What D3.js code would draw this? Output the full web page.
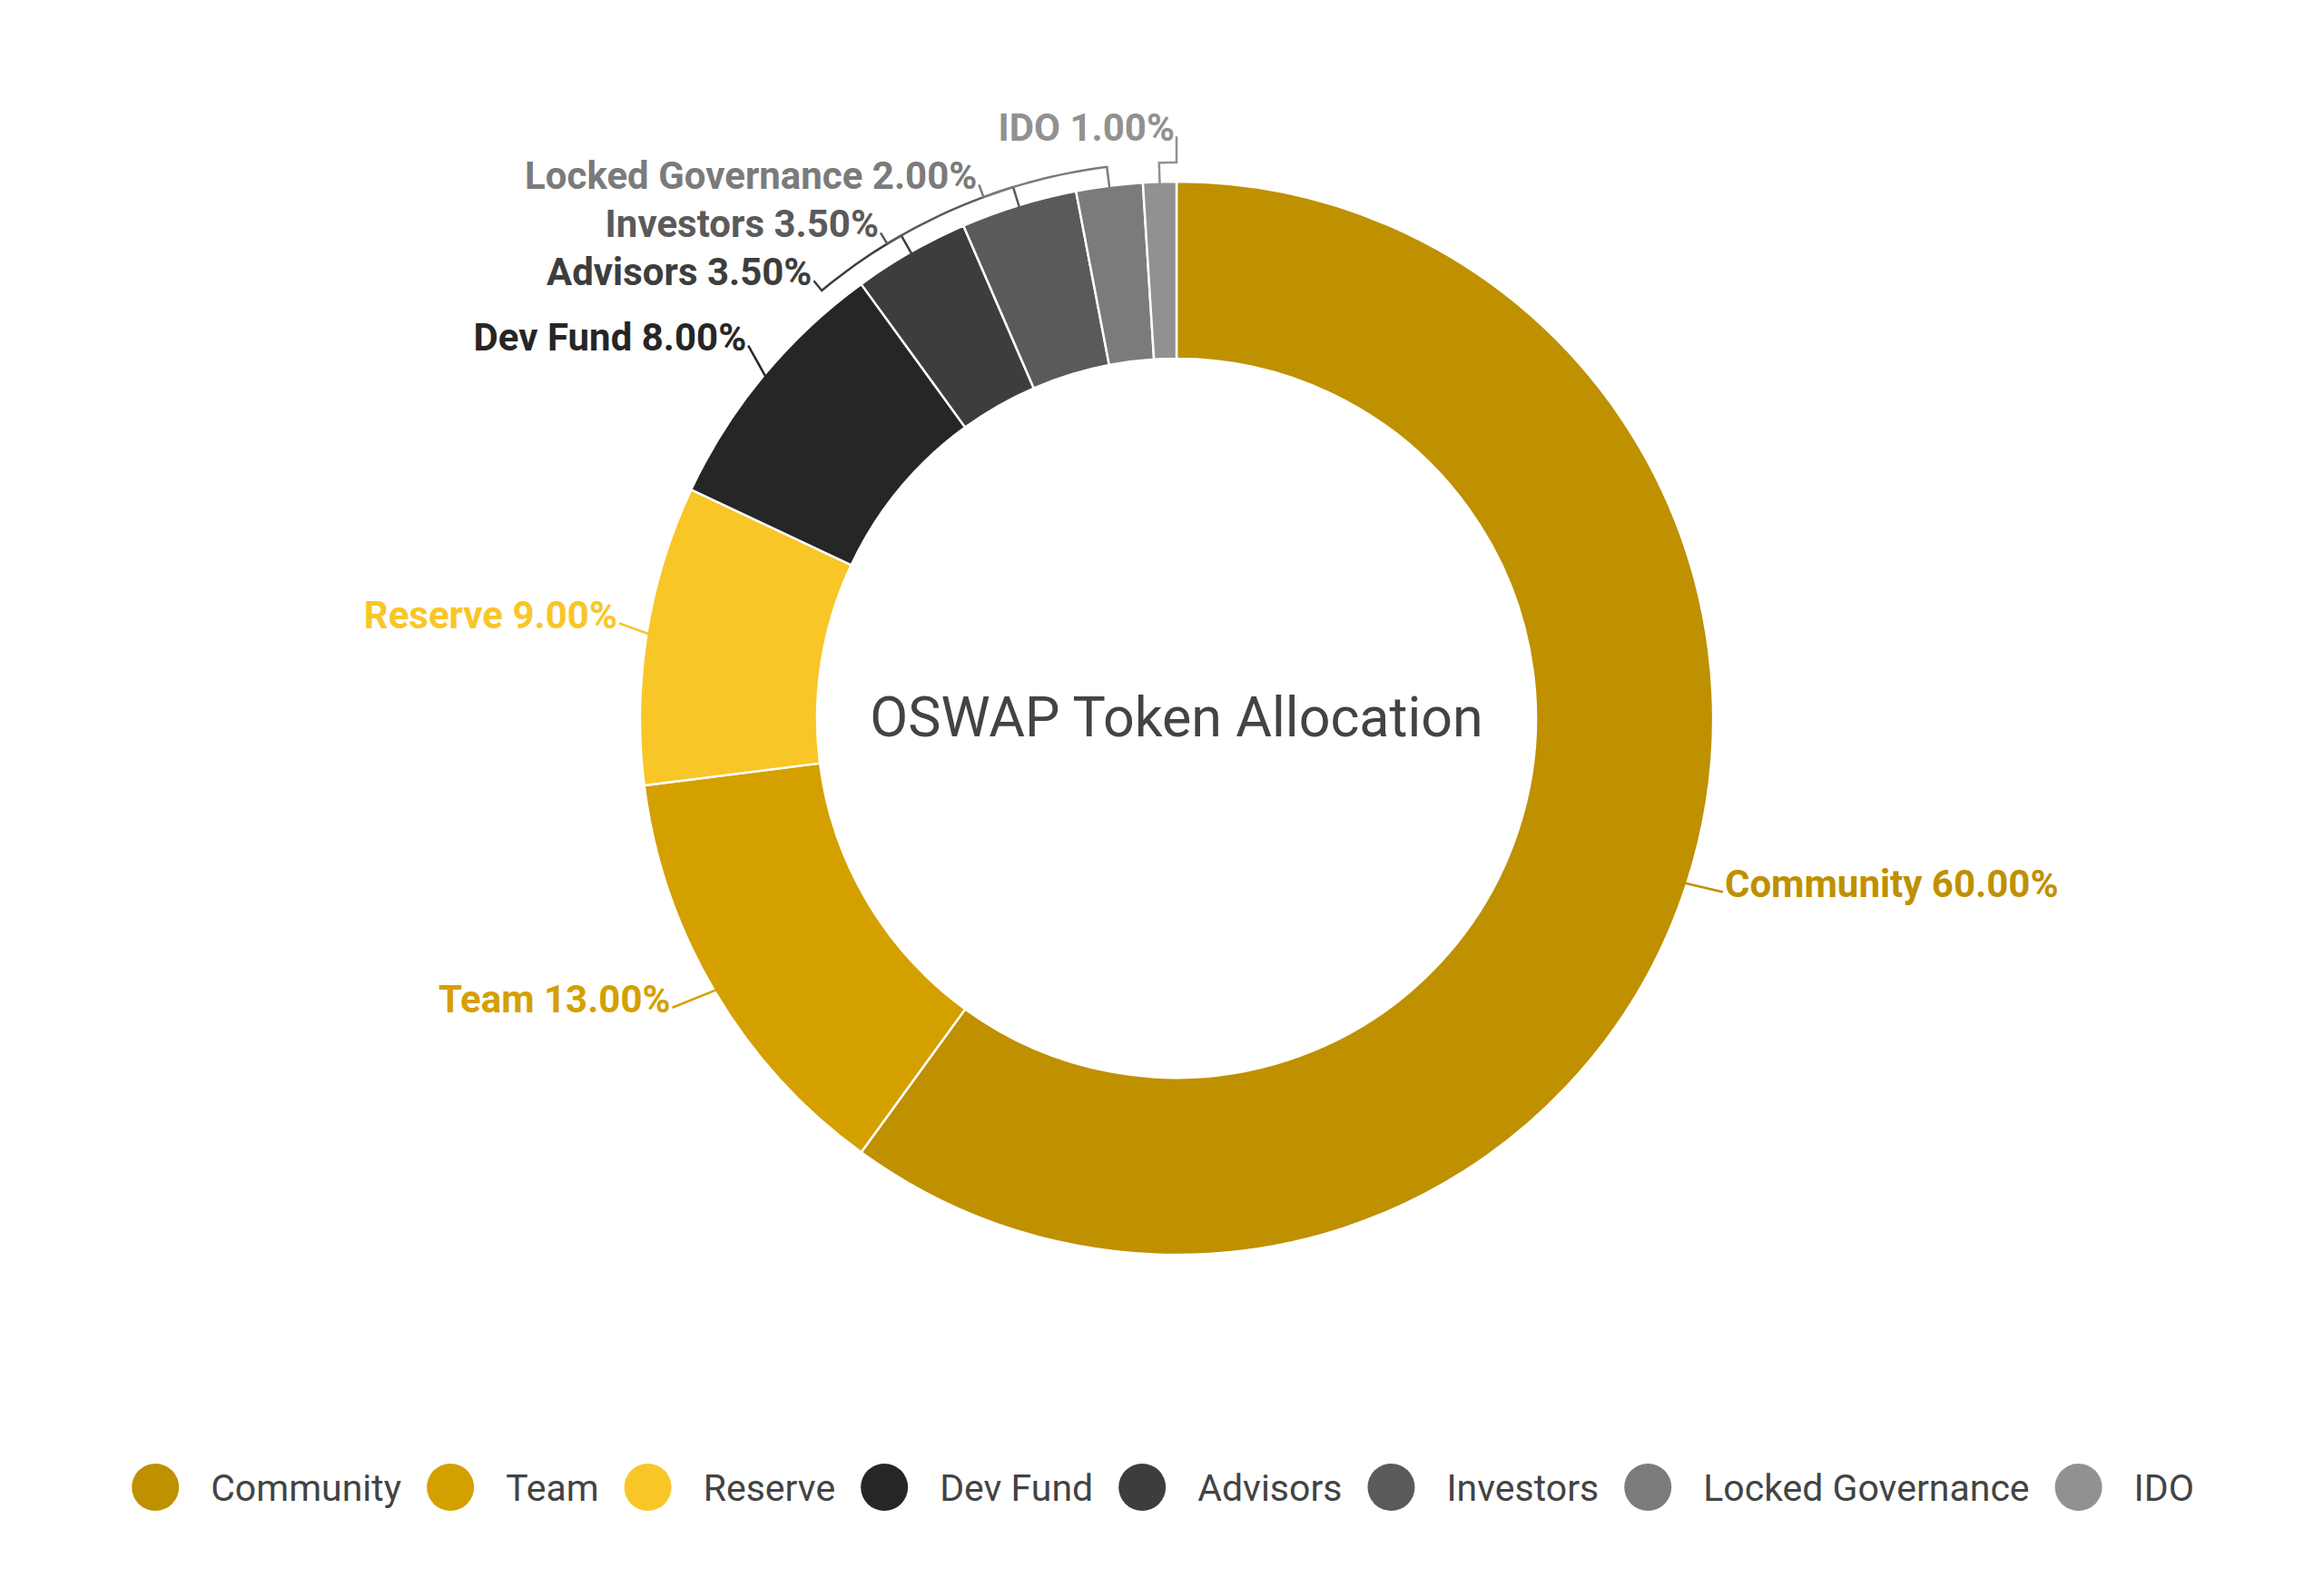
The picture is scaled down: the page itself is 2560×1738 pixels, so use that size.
<!DOCTYPE html>
<html>
<head>
<meta charset="utf-8">
<script src="https://cdn.jsdelivr.net/npm/d3@7/dist/d3.min.js"></script>
<style>
  html, body { margin: 0; padding: 0; background: #ffffff; }
  svg { display: block; font-family: Roboto, "Noto Sans", sans-serif; }
</style>
</head>
<body>
<svg id="chart" width="2560" height="1738"></svg>
<script>
// ---- data ----
const categories = ["Community", "Team", "Reserve", "Dev Fund", "Advisors", "Investors", "Locked Governance", "IDO"];
const values = [60, 13, 9, 8, 3.5, 3.5, 2, 1];
const colors = ["#bf9000", "#d4a000", "#f8c627", "#262626", "#3d3d3d", "#5a5a5a", "#7b7b7b", "#919191"];
const chartTitle = "OSWAP Token Allocation";

// ---- layout ----
const W = 2560, H = 1738;
const cx = 1296, cy = 791;
const rOuter = 591, rInner = 396;
const R_LABEL = 636, R_X = 622, SPACING = 53;

const svg = d3.select("#chart");
const g = svg.append("g");

const total = d3.sum(values);
const pie = d3.pie().sort(null).value(d => d.value);
const data = categories.map((c, i) => ({ name: c, value: values[i], color: colors[i] }));
const arcs = pie(data);
const arc = d3.arc().innerRadius(rInner).outerRadius(rOuter);

g.selectAll("path.slice")
  .data(arcs)
  .enter().append("path")
  .attr("class", "slice")
  .attr("transform", `translate(${cx},${cy})`)
  .attr("d", arc)
  .attr("fill", d => d.data.color)
  .attr("stroke", "#ffffff")
  .attr("stroke-width", 2.5);

// centre title
g.append("text")
  .attr("x", cx)
  .attr("y", cy + 20)
  .attr("text-anchor", "middle")
  .attr("font-size", 61)
  .attr("fill", "#434343")
  .text(chartTitle);

// ---- labels ----
const fmt = v => (v / total * 100).toFixed(2) + "%";
const labels = arcs.map(a => {
  const mid = (a.startAngle + a.endAngle) / 2;
  return {
    a, mid,
    side: Math.sin(mid) >= 0 ? 1 : -1,
    y: cy - R_LABEL * Math.cos(mid),
    pushed: false
  };
});
[1, -1].forEach(side => {
  const list = labels.filter(l => l.side === side).sort((p, q) => p.y - q.y);
  for (let i = 1; i < list.length; i++) {
    const minY = list[i - 1].y + SPACING;
    if (list[i].y < minY) { list[i].y = minY; list[i].pushed = true; }
  }
});
labels.forEach(l => {
  const dy = l.y - cy;
  const base = Math.sqrt(Math.max(0, R_X * R_X - dy * dy));
  const extra = Math.max(0, dy) * (l.side > 0 ? 0.06 : 0.075);
  l.x = cx + l.side * (base + extra);
});

const line = d3.line();
const rE = rOuter + 21;
labels.forEach(l => {
  const textY = l.y;
  const endX = l.x, endY = textY - 5;
  let endAng = Math.atan2(endX - cx, cy - endY);
  while (endAng - l.mid > Math.PI) endAng -= 2 * Math.PI;
  while (endAng - l.mid < -Math.PI) endAng += 2 * Math.PI;
  const pts = [];
  const r0 = rOuter - 6;
  pts.push([cx + r0 * Math.sin(l.mid), cy - r0 * Math.cos(l.mid)]);
  if (l.pushed || Math.cos(l.mid) > 0.99) {
    const steps = 16;
    for (let s = 0; s <= steps; s++) {
      const t = l.mid + (endAng - l.mid) * s / steps;
      pts.push([cx + rE * Math.sin(t), cy - rE * Math.cos(t)]);
    }
  }
  pts.push([endX, endY]);
  g.append("path")
    .attr("d", line(pts))
    .attr("fill", "none")
    .attr("stroke", l.a.data.color)
    .attr("stroke-width", 2.5);
  g.append("text")
    .attr("x", l.side > 0 ? endX + 2 : endX - 2)
    .attr("y", textY)
    .attr("text-anchor", l.side > 0 ? "start" : "end")
    .attr("font-size", 42)
    .attr("font-weight", "bold")
    .attr("fill", l.a.data.color)
    .text(`${l.a.data.name} ${fmt(l.a.data.value)}`);
});

// ---- legend ----
const legendY = 1638, legendR = 26, legendFont = 41;
const lg = svg.append("g");
const items = lg.selectAll("g.item").data(data).enter().append("g").attr("class", "item");
items.append("circle").attr("r", legendR).attr("cy", legendY).attr("fill", d => d.color);
items.append("text")
  .attr("y", legendY + 15)
  .attr("font-size", legendFont)
  .attr("fill", "#434343")
  .text(d => d.name);
let xpos = 0;
const gapAfter = 54;
items.each(function () {
  const sel = d3.select(this);
  const tw = sel.select("text").node().getComputedTextLength();
  sel.select("circle").attr("cx", xpos);
  sel.select("text").attr("x", xpos + 61);
  xpos += 61 + tw + gapAfter;
});
const legendWidth = xpos - gapAfter + legendR;
lg.attr("transform", `translate(${1281 - legendWidth / 2 + legendR},0)`);
</script>
</body>
</html>
